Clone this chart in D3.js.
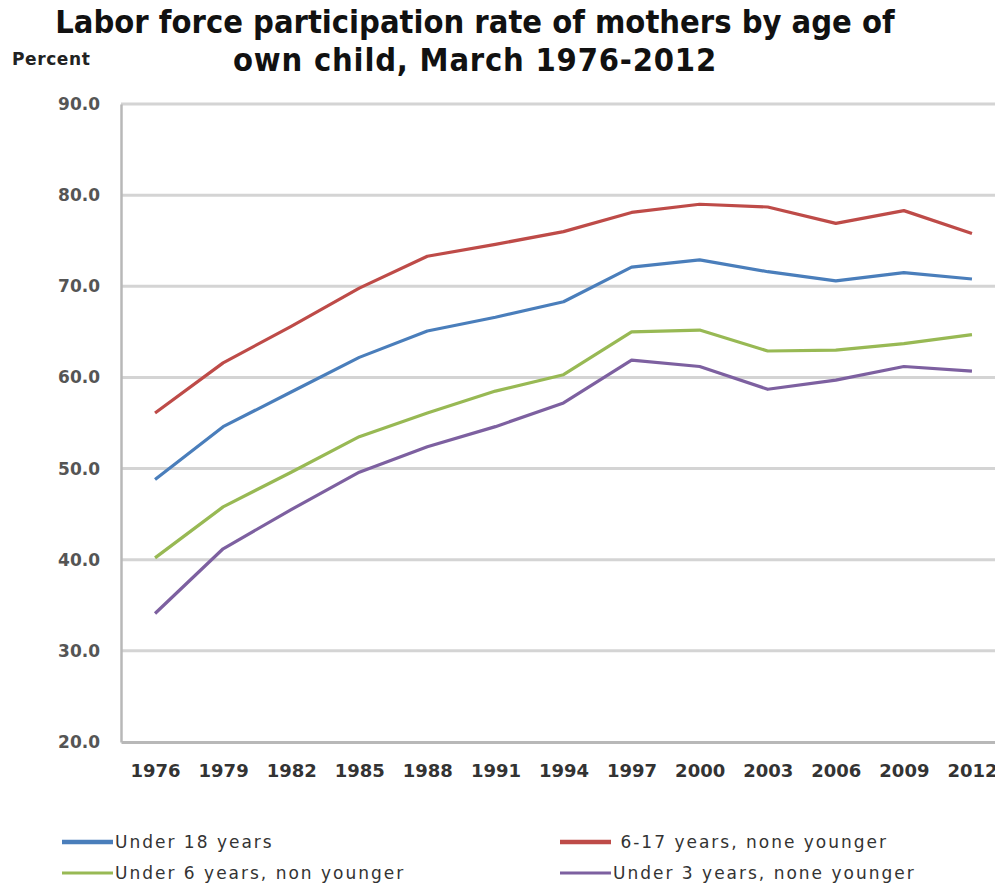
<!DOCTYPE html>
<html>
<head>
<meta charset="utf-8">
<script src="https://cdn.jsdelivr.net/npm/d3@7"></script>
<style>
  body { margin: 0; background: #fff; }
  svg { display: block; }
</style>
</head>
<body>
<svg id="chart" width="995" height="888"></svg>
<script>
// data
var years = ["1976", "1979", "1982", "1985", "1988", "1991", "1994", "1997", "2000", "2003", "2006", "2009", "2012"];
var under18 = [48.8, 54.6, 58.4, 62.2, 65.1, 66.6, 68.3, 72.1, 72.9, 71.6, 70.6, 71.5, 70.8];
var age6to17 = [56.1, 61.6, 65.6, 69.8, 73.3, 74.6, 76.0, 78.1, 79.0, 78.7, 76.9, 78.3, 75.8];
var under6 = [40.2, 45.8, 49.6, 53.5, 56.1, 58.5, 60.3, 65.0, 65.2, 62.9, 63.0, 63.7, 64.7];
var under3 = [34.1, 41.2, 45.5, 49.6, 52.4, 54.6, 57.2, 61.9, 61.2, 58.7, 59.7, 61.2, 60.7];
var yTicks = [20, 30, 40, 50, 60, 70, 80, 90];

var series = [
  { name: "Under 18 years", values: under18, color: "#4a7ebb", key: 4.5 },
  { name: " 6-17 years, none younger", values: age6to17, color: "#be4b48", key: 4.5 },
  { name: "Under 6 years, non younger", values: under6, color: "#98b954", key: 3 },
  { name: "Under 3 years, none younger", values: under3, color: "#7d60a0", key: 3 }
];

var svg = d3.select("#chart");
var plotLeft = 121, plotRight = 1006, plotTop = 104, plotBottom = 742;

var x = d3.scalePoint().domain(years).range([plotLeft, plotRight]).padding(0.5);
var y = d3.scaleLinear().domain([20, 90]).range([plotBottom, plotTop]);

// title
var title = svg.append("text")
  .attr("text-anchor", "middle")
  .attr("font-family", "DejaVu Sans Condensed, DejaVu Sans, sans-serif")
  .attr("font-weight", "bold")
  .attr("font-size", 30)
  .attr("fill", "#111");
var t1 = title.append("tspan").attr("x", 475).attr("y", 33).text("Labor force participation rate of mothers by age of");
title.append("tspan").attr("x", 475).attr("y", 71).attr("letter-spacing", 0.8).text("own child, March 1976-2012");
// fit the first title line to the reference width
var w1 = t1.node().getComputedTextLength();
title.attr("font-size", 30 * 840 / w1);

svg.append("text")
  .attr("x", 12).attr("y", 65)
  .attr("font-family", "DejaVu Sans, sans-serif")
  .attr("font-weight", "bold")
  .attr("font-size", 17)
  .attr("letter-spacing", 0.6)
  .attr("fill", "#222")
  .text("Percent");

// gridlines
svg.append("g")
  .selectAll("line")
  .data(yTicks.filter(function (d) { return d > 20; }))
  .enter()
  .append("line")
  .attr("x1", plotLeft).attr("x2", 995)
  .attr("y1", function (d) { return y(d); })
  .attr("y2", function (d) { return y(d); })
  .attr("stroke", "#d4d4d4")
  .attr("stroke-width", 3);

// axes
var yAxis = svg.append("g")
  .attr("transform", "translate(" + plotLeft + ",0)")
  .call(d3.axisLeft(y).tickValues(yTicks).tickSize(0).tickPadding(21).tickFormat(d3.format(".1f")));
yAxis.select(".domain").attr("stroke", "#b8b8b8").attr("stroke-width", 2.5);
yAxis.selectAll("text")
  .attr("font-family", "DejaVu Sans, Verdana, sans-serif")
  .attr("font-size", 17)
  .attr("font-weight", "bold")
  .attr("fill", "#555");

var xAxis = svg.append("g")
  .attr("transform", "translate(0," + plotBottom + ")")
  .call(d3.axisBottom(x).tickSize(0).tickPadding(22));
xAxis.select(".domain").attr("stroke", "#b8b8b8").attr("stroke-width", 3);
xAxis.selectAll("text")
  .attr("font-family", "DejaVu Sans, Verdana, sans-serif")
  .attr("font-weight", "bold")
  .attr("font-size", 18)
  .attr("fill", "#333");

// lines
var line = d3.line()
  .x(function (d, i) { return x(years[i]); })
  .y(function (d) { return y(d); });

svg.append("g")
  .selectAll("path")
  .data(series)
  .enter()
  .append("path")
  .attr("d", function (d) { return line(d.values); })
  .attr("fill", "none")
  .attr("stroke", function (d) { return d.color; })
  .attr("stroke-width", 3.2)
  .attr("stroke-linejoin", "round");

// legend
var legendPos = [[62, 842], [560, 842], [62, 873], [560, 873]];
var legend = svg.append("g")
  .selectAll("g")
  .data(series)
  .enter()
  .append("g")
  .attr("transform", function (d, i) { return "translate(" + legendPos[i][0] + "," + legendPos[i][1] + ")"; });
legend.append("line")
  .attr("x1", 0).attr("x2", 51)
  .attr("stroke", function (d) { return d.color; })
  .attr("stroke-width", function (d) { return d.key; });
legend.append("text")
  .attr("x", 53).attr("dy", "0.35em")
  .attr("font-family", "DejaVu Sans, Verdana, sans-serif")
  .attr("font-size", 17)
  .attr("letter-spacing", 2)
  .attr("fill", "#333")
  .attr("xml:space", "preserve")
  .text(function (d) { return d.name; });
</script>
</body>
</html>
